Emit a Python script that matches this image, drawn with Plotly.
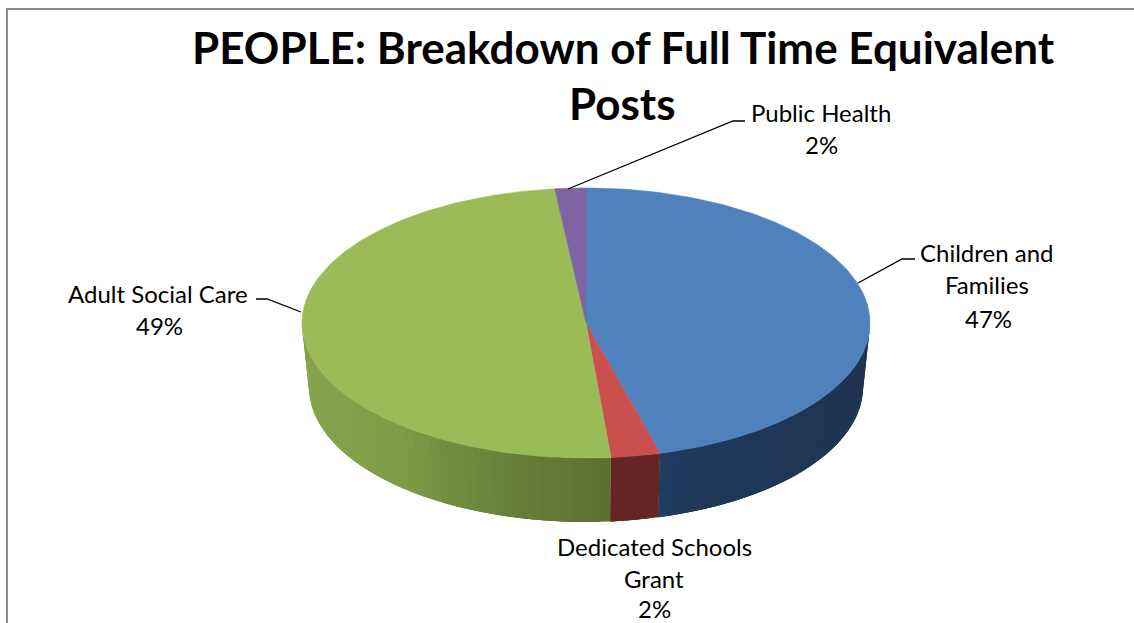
import numpy as np
import plotly.graph_objects as go

# --- data ---
categories = ["Children and Families", "Dedicated Schools Grant", "Adult Social Care", "Public Health"]
shares = [45.8, 2.8, 49.65, 1.75]          # slice sizes as drawn
pct_labels = ["47%", "2%", "49%", "2%"]    # printed percentages
title_lines = ["PEOPLE: Breakdown of Full Time Equivalent", "Posts"]

top_colors = ["#4F81BD", "#C9504F", "#9BBB59", "#8064A2"]
# side shading: (pixel x, colour) stops per slice
side_stops = [
    [(640, "#1E4064"), (700, "#1F3858"), (870, "#1F3552")],
    [(600, "#652523"), (670, "#652523")],
    [(300, "#86A44C"), (400, "#7F9C48"), (450, "#718C40"), (520, "#677D38"), (612, "#5C6F31")],
    [(500, "#4A3A60"), (600, "#4A3A60")],
]

# geometry of the drawn pie
cx, cy, rx, ry = 586.0, 323.0, 284.0, 135.0
bx, by, brx, bry = 586.0, 387.0, 277.0, 135.0


def hex2rgb(h):
    return np.array([int(h[i:i + 2], 16) for i in (1, 3, 5)], float)


def shade(stops, x):
    xs = [s[0] for s in stops]
    cs = np.array([hex2rgb(s[1]) for s in stops])
    c = [np.interp(x, xs, cs[:, k]) for k in range(3)]
    return "rgb(%d,%d,%d)" % tuple(int(round(v)) for v in c)


def pt(theta, x0, y0, a, b):
    return x0 + a * np.sin(theta), y0 - b * np.cos(theta)


fig = go.Figure()
edges = np.concatenate([[0], np.cumsum(shares)]) / sum(shares) * 2 * np.pi

# side wall: painter's order, every band overlaps the next so no seams show
for i in range(len(shares)):
    a0, a1 = max(edges[i], np.pi / 2), min(edges[i + 1], 3 * np.pi / 2)
    if a1 <= a0:
        continue
    n = max(2, int(np.degrees(a1 - a0) / 2))
    grid = np.linspace(a0, a1, n + 1)
    for j in range(n):
        tt = np.linspace(grid[j], grid[min(j + 3, n)], 9)
        xa, ya = pt(tt, cx, cy, rx, ry)
        xb, yb = pt(tt[::-1], bx, by, brx, bry)
        mid = pt((grid[j] + grid[j + 1]) / 2, cx, cy, rx, ry)[0]
        col = shade(side_stops[i], mid)
        fig.add_trace(go.Scatter(
            x=np.r_[xa, xb, xa[0]], y=np.r_[ya, yb, ya[0]], mode="lines", fill="toself",
            fillcolor=col, line=dict(width=0), hoverinfo="skip", showlegend=False))

# top face
for i, name in enumerate(categories):
    tt = np.linspace(edges[i], edges[i + 1], max(3, int(np.degrees(edges[i + 1] - edges[i]))))
    xa, ya = pt(tt, cx, cy, rx, ry)
    fig.add_trace(go.Scatter(
        x=np.r_[cx, xa, cx], y=np.r_[cy, ya, cy], mode="lines", fill="toself", name=name,
        fillcolor=top_colors[i], line=dict(color=top_colors[i], width=0.6),
        hoverinfo="name", showlegend=False))

# leader lines
leaders = [
    ([858, 902, 915], [283, 259, 259]),
    ([301, 267, 256], [312, 299, 299]),
    ([568, 733, 745], [189, 121, 121]),
]
for lx, ly in leaders:
    fig.add_trace(go.Scatter(x=lx, y=ly, mode="lines", line=dict(color="black", width=1.3),
                             hoverinfo="skip", showlegend=False))

FONT = "Lato, Carlito, Calibri, sans-serif"
anns = []


def text(s, x, y, size, bold=False):
    anns.append(dict(x=x, y=y, xref="x", yref="y", text=f"<b>{s}</b>" if bold else s, showarrow=False,
                     xanchor="center", yanchor="middle",
                     font=dict(family=FONT, size=size, color="black")))


text(title_lines[0], 623, 47, 44, True)
text(title_lines[1], 622, 103, 44, True)
LBL = 24
text("Children and", 987, 252, LBL)
text("Families", 987, 284, LBL)
text(pct_labels[0], 988, 318, LBL)
text("Dedicated Schools", 654, 546, LBL)
text("Grant", 654, 578, LBL)
text(pct_labels[1], 654, 608, LBL)
text("Adult Social Care", 158, 293, LBL)
text(pct_labels[2], 159, 325, LBL)
text("Public Health", 821, 112, LBL)
text(pct_labels[3], 821, 144, LBL)

fig.update_layout(
    width=1134, height=623, margin=dict(l=0, r=0, t=0, b=0),
    paper_bgcolor="white", plot_bgcolor="white", showlegend=False, annotations=anns,
    xaxis=dict(range=[0, 1134], visible=False, fixedrange=True),
    yaxis=dict(range=[623, 0], visible=False, fixedrange=True),
    shapes=[dict(type="rect", xref="x", yref="y", x0=7, y0=9, x1=1150, y1=640,
                 line=dict(color="#8C8C8C", width=2), layer="below")],
)
fig.write_html("out.html", config={"displayModeBar": False},
               post_script="document.body.style.margin='0';document.documentElement.style.overflow='hidden';")
